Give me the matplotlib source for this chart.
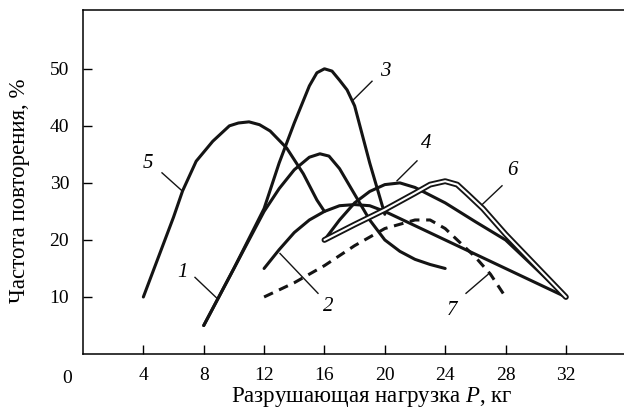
import matplotlib
matplotlib.use("Agg")
import matplotlib.pyplot as plt

plt.rcParams["font.family"] = ["Liberation Serif", "DejaVu Serif"]
plt.rcParams["mathtext.fontset"] = "custom"
plt.rcParams["mathtext.rm"] = "Liberation Serif"
plt.rcParams["mathtext.it"] = "Liberation Serif:italic"

# curves: load P (kg) vs frequency (%)
c1_x = [8, 9, 10, 11, 12, 13, 14, 15, 15.7, 16.3, 17, 18, 19, 20, 21, 22, 23, 24]
c1_y = [5, 10, 15, 20, 25, 29, 32.3, 34.5, 35.1, 34.7, 32.5, 28, 23.5, 20, 18, 16.6, 15.7, 15]

c2_x = [12, 13, 14, 15, 16, 17, 18, 19, 20, 22, 24, 26, 28, 30, 32]
c2_y = [15, 18.3, 21.3, 23.5, 25, 26, 26.2, 26, 25, 22.5, 20, 17.5, 15, 12.5, 10]

c3_x = [8, 10, 12, 13, 14, 15, 15.5, 16, 16.5, 17, 17.5, 18, 18.5, 19, 19.5, 20]
c3_y = [5, 15, 25.5, 33.5, 40.5, 47, 49.3, 50, 49.6, 48, 46.3, 43.5, 38.5, 33.5, 29, 24.5]

c4_x = [16, 17, 18, 19, 20, 21, 22, 24, 26, 28, 30, 32]
c4_y = [20, 23.5, 26.5, 28.5, 29.7, 30, 29.2, 26.5, 23.2, 20, 15, 10]

c5_x = [4, 5, 6, 6.6, 7.5, 8.6, 9.7, 10.3, 11, 11.7, 12.4, 13.5, 14.6, 15.5, 16]
c5_y = [10, 17, 24, 28.6, 33.8, 37.3, 40, 40.5, 40.7, 40.2, 39.1, 36.1, 31.6, 27, 25]

c6_x = [16, 18, 20, 22, 23, 24, 24.8, 25.5, 26.5, 28, 30, 32]
c6_y = [20, 22.7, 25.3, 28.2, 29.7, 30.3, 29.7, 28, 25.5, 21, 15.5, 10]

c7_x = [12, 14, 16, 18, 20, 22, 23, 24, 26, 27, 28]
c7_y = [10, 12.5, 15.5, 19, 22, 23.5, 23.5, 22, 17, 14, 10]

x_ticks = [4, 8, 12, 16, 20, 24, 28, 32]
y_ticks = [10, 20, 30, 40, 50]

fig = plt.figure(figsize=(6.24, 4.18), dpi=100)
ax = fig.add_axes([0.133, 0.153, 0.867, 0.823])

kw = dict(color="#141414", lw=2.2, solid_capstyle="round", solid_joinstyle="round")
ax.plot(c1_x, c1_y, **kw)
ax.plot(c2_x, c2_y, **kw)
ax.plot(c3_x, c3_y, **kw)
ax.plot(c4_x, c4_y, **kw)
ax.plot(c5_x, c5_y, **kw)
# double line for curve 6
ax.plot(c6_x, c6_y, color="#141414", lw=4.2, solid_capstyle="round", solid_joinstyle="round")
ax.plot(c6_x, c6_y, color="white", lw=1.5, solid_capstyle="round", solid_joinstyle="round")
ax.plot(c7_x, c7_y, color="#141414", lw=2.2, linestyle=(0, (3.2, 2.2)))

ax.set_xlim(0, 35.85)
ax.set_ylim(0, 60.3)
ax.set_xticks(x_ticks)
ax.set_yticks(y_ticks)
ax.tick_params(direction="in", length=6.5, width=1, labelsize=14, pad=9)
ax.tick_params(axis="y", pad=10)
for s in ["left", "top", "bottom"]:
    ax.spines[s].set_linewidth(1.1)
ax.spines["right"].set_visible(False)

ax.text(-0.03, -0.07, "0", transform=ax.transAxes, ha="center", va="center", fontsize=14)

ax.set_xlabel("Разрушающая нагрузка $P$, кг", fontsize=16.5)
ax.xaxis.set_label_coords(0.534, -0.09)
ax.set_ylabel("Частота повторения, %", fontsize=16.5)
ax.yaxis.set_label_coords(-0.098, 0.474)

# curve labels with leader lines
def label(txt, tx, ty, x0, y0, x1, y1):
    ax.plot([x0, x1], [y0, y1], color="#141414", lw=1.0)
    ax.text(tx, ty, txt, fontsize=15, style="italic", ha="center", va="center")

def px(x, y):
    return (x - 83) / 15.09, (354 - y) / 5.73

for txt, t, a, b in [
    ("5", (148, 163), (162, 172), (182, 190)),
    ("1", (183, 272), (195, 277), (217, 298)),
    ("2", (328, 306), (280, 253), (318, 293)),
    ("3", (385, 70), (372, 80), (352, 100)),
    ("4", (426, 143), (417, 160), (397, 180)),
    ("6", (512, 170), (502, 185), (482, 204)),
    ("7", (452, 310), (466, 293), (488, 274)),
]:
    tx, ty = px(*t)
    x0, y0 = px(*a)
    x1, y1 = px(*b)
    label(txt, tx, ty, x0, y0, x1, y1)

fig.savefig("out.png", dpi=100, facecolor="white")
